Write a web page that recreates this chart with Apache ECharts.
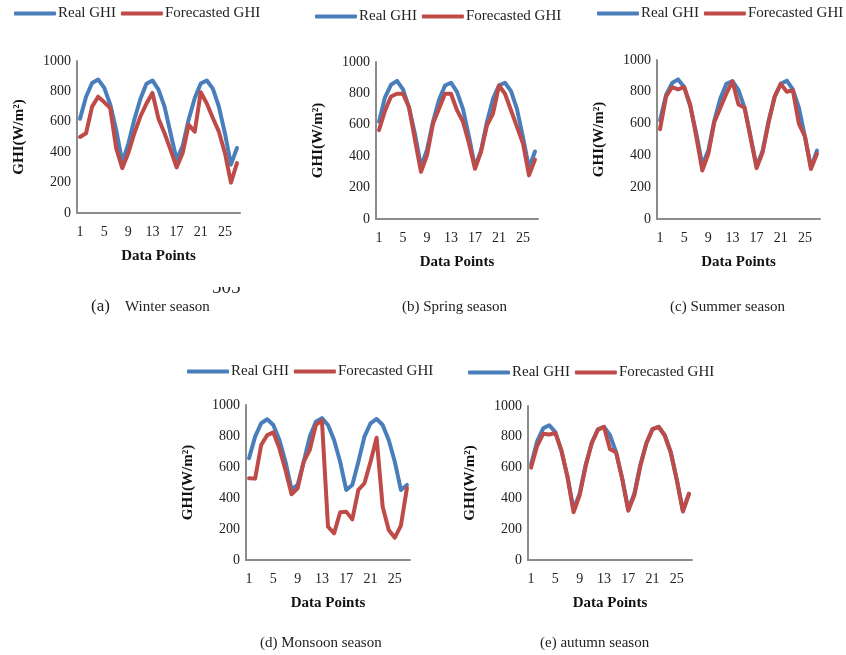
<!DOCTYPE html>
<html lang="en">
<head>
  <meta charset="utf-8">
  <title>GHI forecast by season</title>
  <script src="https://cdn.jsdelivr.net/npm/echarts@6/dist/echarts.min.js"></script>
  <style>
    html, body { margin: 0; padding: 0; background: #fff; }
    #chart { width: 846px; height: 655px; }
  </style>
</head>
<body>
<div id="chart"></div>

<script>
// x categories: data points 1..27
var points = ['1','2','3','4','5','6','7','8','9','10','11','12','13','14','15','16','17','18','19','20','21','22','23','24','25','26','27'];

// (a) winter
var winterReal = [620, 765, 855, 878, 825, 715, 545, 335, 455, 615, 750, 850, 872, 812, 700, 525, 350, 440, 615, 755, 852, 872, 818, 700, 525, 318, 428];
var winterFc   = [500, 525, 700, 765, 730, 690, 425, 295, 395, 525, 635, 720, 790, 620, 525, 415, 300, 395, 580, 535, 795, 720, 625, 535, 395, 200, 328];

// (b) spring
var springReal = [620, 775, 855, 880, 825, 710, 540, 335, 440, 620, 760, 850, 868, 810, 700, 525, 330, 435, 620, 765, 852, 868, 815, 700, 520, 325, 430];
var springFc   = [566, 690, 780, 798, 798, 712, 502, 300, 405, 608, 703, 798, 798, 693, 619, 481, 320, 428, 597, 672, 850, 798, 693, 587, 481, 278, 378];

// (c) summer
var summerReal = [620, 780, 855, 878, 830, 710, 540, 340, 430, 620, 760, 850, 868, 810, 700, 520, 330, 430, 620, 770, 850, 870, 815, 700, 520, 325, 430];
var summerFc   = [565, 770, 830, 815, 830, 720, 520, 305, 410, 610, 700, 790, 865, 720, 700, 510, 320, 420, 610, 770, 850, 800, 810, 600, 520, 315, 410];

// (d) monsoon
var monsoonReal = [656, 796, 882, 908, 871, 774, 634, 455, 484, 634, 796, 892, 915, 871, 774, 634, 452, 484, 634, 796, 882, 910, 871, 774, 634, 452, 484];
var monsoonFc   = [527, 525, 742, 806, 823, 720, 581, 424, 462, 634, 710, 871, 900, 215, 172, 308, 312, 262, 452, 495, 634, 789, 344, 194, 144, 222, 465];

// (e) autumn
var autumnReal = [620, 770, 855, 875, 830, 710, 540, 330, 430, 620, 760, 848, 865, 810, 700, 530, 330, 430, 620, 760, 850, 865, 810, 700, 520, 320, 430];
var autumnFc   = [600, 740, 820, 815, 825, 710, 540, 310, 420, 610, 760, 845, 865, 720, 700, 530, 320, 420, 610, 760, 850, 865, 810, 700, 520, 315, 430];

var panels = [
  { real: winterReal,  fc: winterFc,  grid: { left: 77,  top: 61,  width: 163, height: 152 }, legend: { left: 14,  top: 6 } },
  { real: springReal,  fc: springFc,  grid: { left: 376, top: 62,  width: 162, height: 157 }, legend: { left: 315, top: 9 } },
  { real: summerReal,  fc: summerFc,  grid: { left: 657, top: 60,  width: 163, height: 159 }, legend: { left: 597, top: 6 } },
  { real: monsoonReal, fc: monsoonFc, grid: { left: 246, top: 405, width: 164, height: 155 }, legend: { left: 187, top: 364 } },
  { real: autumnReal,  fc: autumnFc,  grid: { left: 528, top: 406, width: 164, height: 154 }, legend: { left: 468, top: 365 } }
];

var FONT = '"Liberation Serif", "Times New Roman", serif';
var BLUE = '#4a7ebb';
var RED = '#be4b48';
var AXIS = '#8c8c8c';

var grids = [], xAxes = [], yAxes = [], legends = [], series = [];

panels.forEach(function (p, i) {
  grids.push(p.grid);
  xAxes.push({
    type: 'category', gridIndex: i, data: points, boundaryGap: true,
    name: 'Data Points', nameLocation: 'middle', nameGap: 36,
    nameTextStyle: { fontFamily: FONT, fontSize: 15, fontWeight: 'bold', color: '#111' },
    axisLine: { lineStyle: { color: AXIS, width: 2 } },
    axisTick: { show: false },
    axisLabel: { interval: 3, margin: 12, fontFamily: FONT, fontSize: 14, color: '#222' },
    splitLine: { show: false }
  });
  yAxes.push({
    type: 'value', gridIndex: i, min: 0, max: 1000, interval: 200,
    name: 'GHI(W/m²)', nameLocation: 'middle', nameGap: 50,
    nameTextStyle: { fontFamily: FONT, fontSize: 15, fontWeight: 'bold', color: '#111' },
    axisLine: { show: true, lineStyle: { color: AXIS, width: 2 } },
    axisTick: { show: false },
    axisLabel: { margin: 6, fontFamily: FONT, fontSize: 14, color: '#222', formatter: function (v) { return String(v); } },
    splitLine: { show: false }
  });
  legends.push({
    left: p.legend.left, top: p.legend.top, padding: 0, itemGap: 5,
    icon: 'roundRect', itemWidth: 42, itemHeight: 4,
    textStyle: { fontFamily: FONT, fontSize: 15, color: '#222', padding: [0, 0, 0, -3] },
    data: ['Real GHI', 'Forecasted GHI']
  });
  series.push({
    name: 'Real GHI', type: 'line', xAxisIndex: i, yAxisIndex: i, data: p.real,
    symbol: 'none', color: BLUE,
    lineStyle: { width: 4, color: BLUE, join: 'round', cap: 'round' }
  });
  series.push({
    name: 'Forecasted GHI', type: 'line', xAxisIndex: i, yAxisIndex: i, data: p.fc,
    symbol: 'none', color: RED,
    lineStyle: { width: 4, color: RED, join: 'round', cap: 'round' }
  });
});

function caption(x, y, text, size) {
  return { type: 'text', left: x, top: y, style: { text: text, fontFamily: FONT, fontSize: size || 15, fill: '#222' } };
}

var chart = echarts.init(document.getElementById('chart'), null, { renderer: 'canvas' });
chart.setOption({
  backgroundColor: '#fff',
  animation: false,
  grid: grids,
  xAxis: xAxes,
  yAxis: yAxes,
  legend: legends,
  series: series,
  graphic: [
    { type: 'text', left: 212, top: 279, style: { text: '505', fontFamily: FONT, fontSize: 19, fill: '#222' } },
    { type: 'rect', left: 206, top: 274, shape: { width: 48, height: 13 }, style: { fill: '#fff' }, z: 200 },
    caption(91, 298, '(a)', 17),
    caption(125, 300, 'Winter season'),
    caption(402, 300, '(b) Spring season'),
    caption(670, 300, '(c) Summer season'),
    caption(260, 636, '(d) Monsoon season'),
    caption(540, 636, '(e) autumn season')
  ]
});
</script>
</body>
</html>
